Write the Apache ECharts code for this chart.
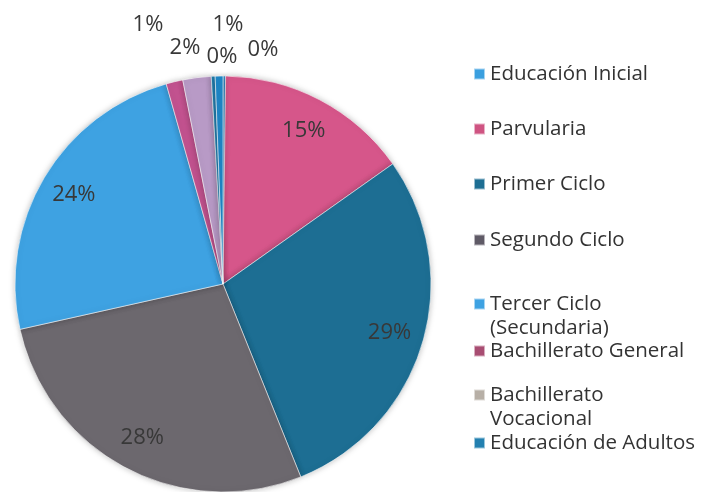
<!DOCTYPE html>
<html>
<head>
<meta charset="utf-8">
<script src="https://cdn.jsdelivr.net/npm/echarts@6/dist/echarts.min.js"></script>
<style>
  html, body { margin: 0; padding: 0; background: #fff; }
  #chart { width: 702px; height: 492px; }
</style>
</head>
<body>
<div id="chart"></div>
<script>
// categories in pie order (clockwise from 12 o'clock); the last one has no legend entry
const categories = [
  'Educación Inicial',
  'Parvularia',
  'Primer Ciclo',
  'Segundo Ciclo',
  'Tercer Ciclo\n(Secundaria)',
  'Bachillerato General',
  'Bachillerato\nVocacional',
  'Educación de Adultos',
  ''
]
// shares (percent)
const shares = [0.2, 15.0, 28.7, 27.6, 24.1, 1.3, 2.2, 0.3, 0.6]

const colors = ['#3a9fdf', '#d6568a', '#1d6e93', '#6c686e', '#3ea2e2', '#c2528f', '#b89ac6', '#2380b0', '#1e86c6']
const legendIconColors = ['#3a9fdf', '#cf5482', '#1d6e93', '#5f5a66', '#3ea2e2', '#a84d72', '#b7afa6', '#2380b0']

// layout: legend item tops, and where the small-slice labels sit
const legendTops = [57, 112, 167, 223, 263, 334, 354, 426]
const smallLabelPos = { 0: [263, 50], 5: [148, 25], 6: [185, 48], 7: [222, 57], 8: [228, 25] }

const cx = 223, cy = 284, R = 208
const total = shares.reduce((a, b) => a + b, 0)

const chart = echarts.init(document.getElementById('chart'))

const pieData = categories.map((name, i) => ({
  name: name,
  value: shares[i],
  itemStyle: { color: colors[i] }
}))

// two-line entries get a blank first line so the icon sits beside the first text line
const legends = categories.slice(0, 8).map((name, i) => ({
  left: 468,
  top: legendTops[i],
  orient: 'vertical',
  itemWidth: 11,
  itemHeight: 11,
  itemGap: 0,
  icon: 'rect',
  selectedMode: false,
  data: [{ name: name, itemStyle: { color: legendIconColors[i] } }],
  formatter: n => (n.indexOf('\n') >= 0 ? ' \n' + n : n),
  textStyle: {
    fontFamily: 'Open Sans',
    fontSize: 20.5,
    color: '#333333',
    lineHeight: 24
  }
}))

const option = {
  animation: false,
  legend: legends,
  series: [
    {
      type: 'pie',
      center: [cx, cy],
      radius: [0, R],
      startAngle: 90,
      clockwise: true,
      silent: true,
      label: { show: false },
      labelLine: { show: false },
      itemStyle: {
        borderColor: 'rgba(255,255,255,0.55)',
        borderWidth: 1,
        shadowBlur: 6,
        shadowColor: 'rgba(0,0,0,0.25)'
      },
      data: pieData
    },
    {
      // transparent ring carrying the percentage labels at ~0.82 R
      type: 'pie',
      center: [cx, cy],
      radius: [R * 0.64, R],
      startAngle: 90,
      clockwise: true,
      silent: true,
      legendHoverLink: false,
      itemStyle: { color: 'rgba(0,0,0,0)' },
      labelLine: { show: false },
      label: {
        show: true,
        position: 'inside',
        fontFamily: 'Open Sans',
        fontSize: 22,
        color: '#383838',
        formatter: p => Math.round(p.value / total * 100) + '%'
      },
      labelLayout: params => {
        const pos = smallLabelPos[params.dataIndex]
        if (!pos) return {}
        return { x: pos[0], y: pos[1], align: 'center', verticalAlign: 'middle' }
      },
      data: categories.map((name, i) => ({ name: name + ' ', value: shares[i] }))
    }
  ]
}

chart.setOption(option)
</script>
</body>
</html>
